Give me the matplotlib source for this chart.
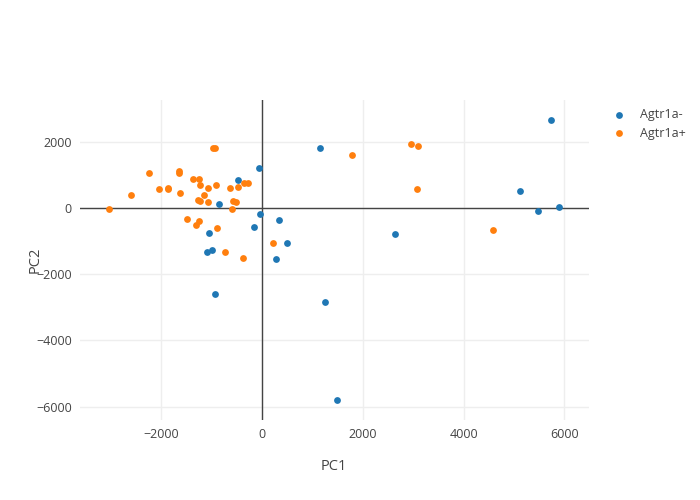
import numpy as np
import matplotlib.pyplot as plt
from matplotlib.ticker import FuncFormatter

# PCA scores
neg_pc1 = [-65, -476, -859, -40, -171, -1063, -1097, -992, 278, -944,
           331, 1158, 496, 2639, 5742, 5127, 5470, 5900, 1250, 1482]
neg_pc2 = [1190, 846, 103, -190, -583, -764, -1347, -1268, -1540, -2597,
           -381, 1812, -1075, -785, 2658, 495, -109, 30, -2827, -5807]

pos_pc1 = [-972, -938, -2254, -1647, -1647, -1369, -1250, -1230, -1083, -925,
           -635, -488, -357, -284, -2056, -1877, -1871, -2605, -1627, -1157,
           -1282, -1242, -1083, -575, -516, -607, -3041, -1488, -1250, -1315,
           -899, -734, -389, 206, 1780, 2964, 3095, 3069, 4577]
pos_pc2 = [1794, 1812, 1039, 1108, 1057, 858, 858, 686, 595, 695,
           595, 616, 746, 746, 574, 556, 586, 393, 435, 374,
           242, 211, 172, 211, 172, -30, -48, -341, -411, -513,
           -604, -1347, -1528, -1075, 1601, 1924, 1872, 556, -664]

groups = ['Agtr1a-', 'Agtr1a+']
xticks = [-2000, 0, 2000, 4000, 6000]
yticks = [-6000, -4000, -2000, 0, 2000]

plt.rcParams['font.family'] = ['Open Sans', 'DejaVu Sans']
txt = '#444444'

fig = plt.figure(figsize=(7, 5), dpi=100)
ax = fig.add_axes([80/700, 1 - 420/500, 509/700, 320/500])

ax.scatter(neg_pc1, neg_pc2, s=24, color='#1f77b4', linewidths=0, label=groups[0], zorder=3)
ax.scatter(pos_pc1, pos_pc2, s=24, color='#ff7f0e', linewidths=0, label=groups[1], zorder=3)

ax.set_xlim(-3617, 6489)
ax.set_ylim(-6402, 3253)
ax.set_xticks(xticks)
ax.set_yticks(yticks)
fmt = FuncFormatter(lambda v, p: ('\u2212%d' % abs(v)) if v < 0 else '%d' % v)
ax.xaxis.set_major_formatter(fmt)
ax.yaxis.set_major_formatter(fmt)
ax.grid(True, color='#eeeeee', linewidth=1, zorder=0)
ax.axhline(0, color='#444444', linewidth=1, zorder=2)
ax.axvline(0, color='#444444', linewidth=1, zorder=2)
for s in ax.spines.values():
    s.set_visible(False)
ax.tick_params(length=0, labelsize=9, labelcolor=txt, pad=6)

fig.text(334/700, 1 - 466/500, 'PC1', fontsize=10.5, color=txt, ha='center', va='center')
fig.text(35/700, 1 - 260/500, 'PC2', fontsize=10.5, color=txt, ha='center', va='center', rotation=90)

leg = ax.legend(loc='upper left', bbox_to_anchor=(606/700, 1 - 103/500), bbox_transform=fig.transFigure,
                frameon=False, fontsize=9, handletextpad=1.1, labelspacing=0.45, markerscale=1.0,
                borderaxespad=0, handlelength=1.2)
for t in leg.get_texts():
    t.set_color(txt)

fig.savefig('out.png', dpi=100)
